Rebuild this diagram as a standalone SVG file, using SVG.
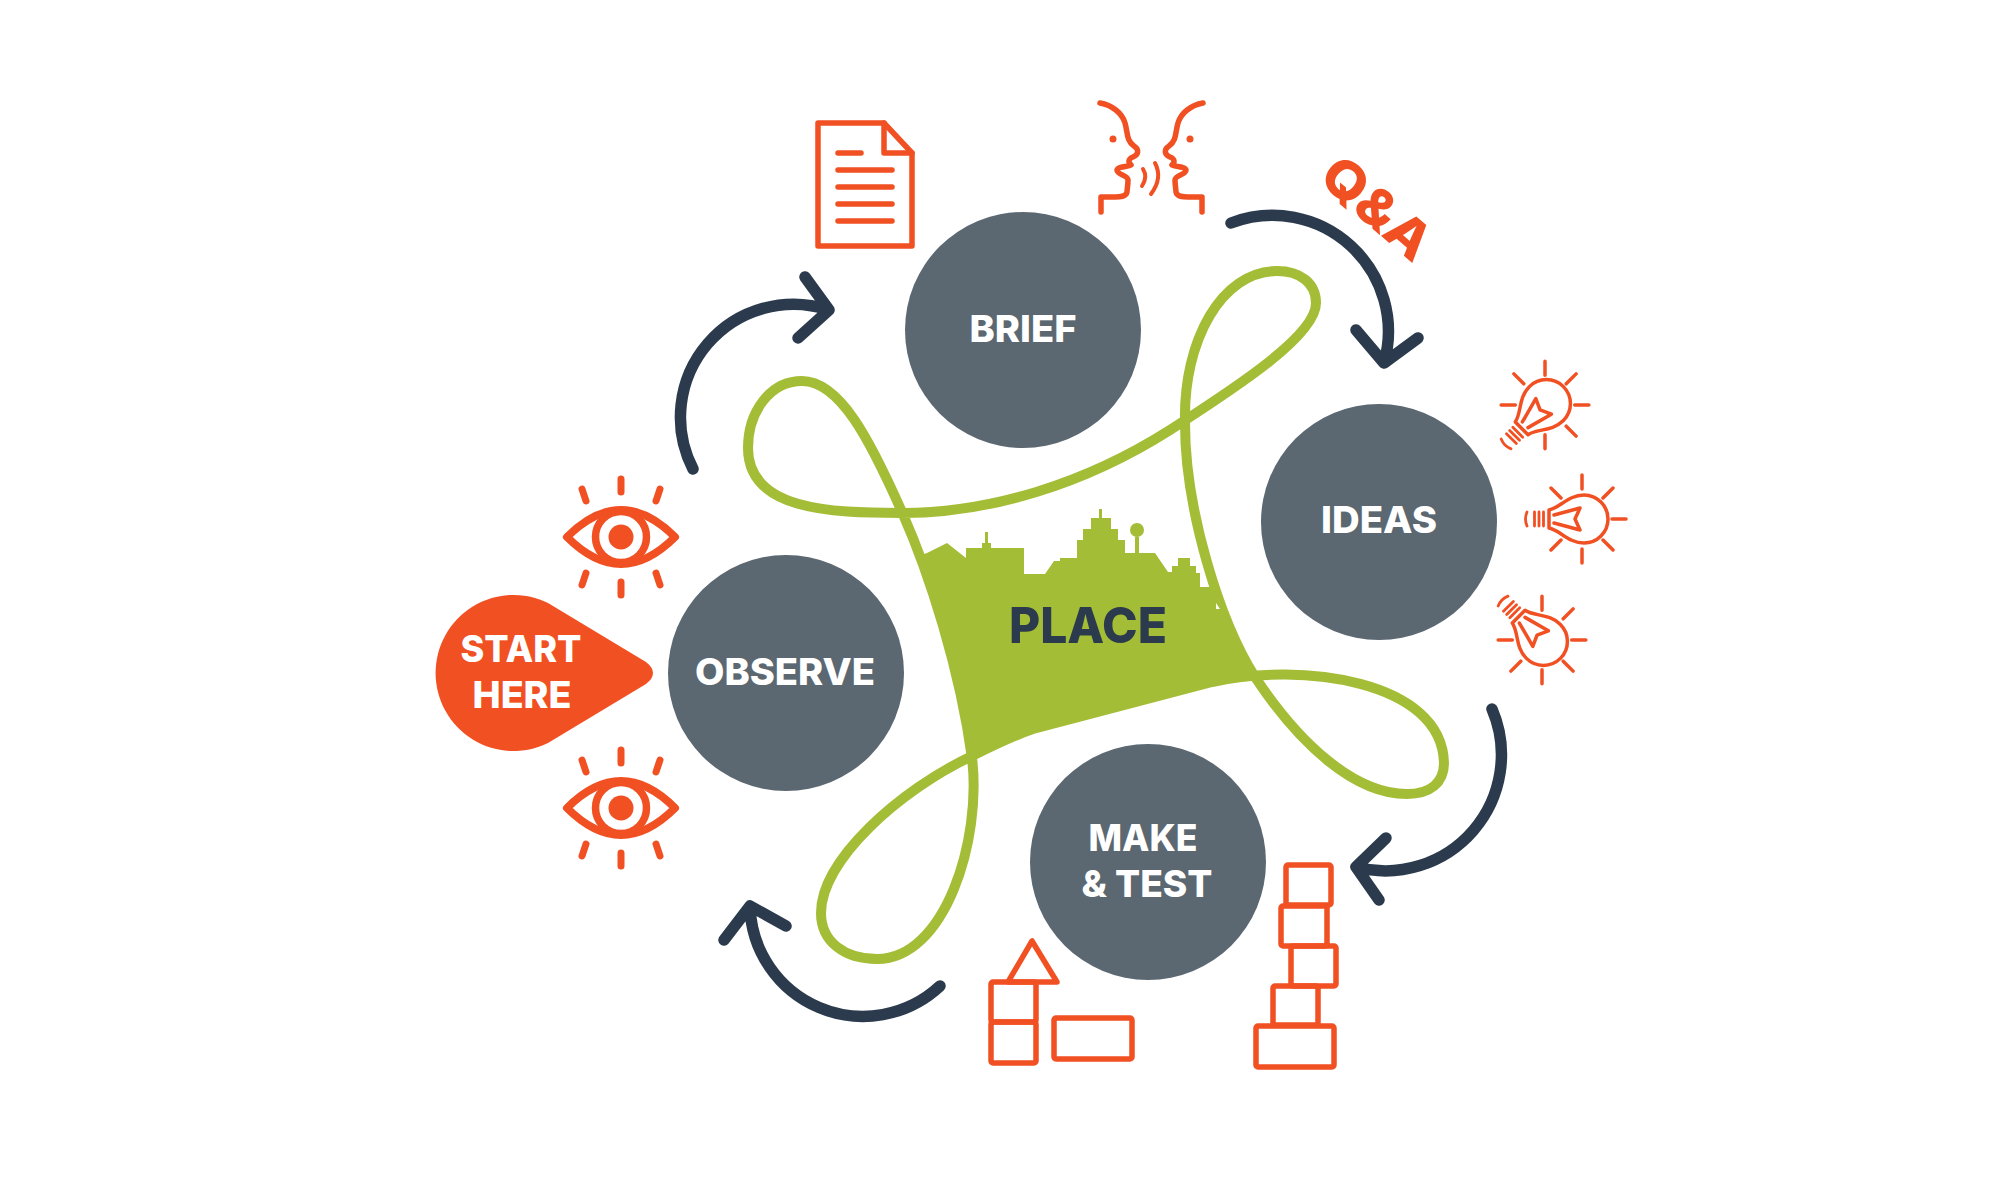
<svg xmlns="http://www.w3.org/2000/svg" xmlns:xlink="http://www.w3.org/1999/xlink" width="2000" height="1200" viewBox="0 0 2000 1200">
<style>
.o{fill:none;stroke:#f15023;stroke-width:5.500;stroke-linecap:round;stroke-linejoin:round}
.a{fill:none;stroke:#2b3b4d;stroke-width:11.500;stroke-linecap:round;stroke-linejoin:round}
.c{fill:#5b6771}
.t{font-family:"Inter","Liberation Sans",sans-serif;font-weight:800;font-size:37px;fill:#fff;text-anchor:middle}
.b{fill:none;stroke:#f15023;stroke-width:3.500;stroke-linecap:round;stroke-linejoin:round}
</style>
<defs>
<g id="eye">
<path d="M-54,0Q0,-54 54,0Q0,54 -54,0Z" fill="none" stroke="#f15023" stroke-width="8" stroke-linejoin="round"/>
<circle r="25.500" fill="#fff" stroke="#f15023" stroke-width="7.500"/>
<circle r="12.500" fill="#f15023"/>
<path d="M0,-58V-45M0,45V58M-39,-48L-35,-36M39,-48L35,-36M-39,48L-35,36M39,48L35,36" fill="none" stroke="#f15023" stroke-width="7" stroke-linecap="round"/>
</g>
<g id="bulb" class="b">
<path d="M-33,-9V9C-22,11 -14,24 2,24A24,24 0 0 0 2,-24C-14,-24 -22,-11 -33,-9Z"/>
<path d="M-28,-4L-2,-11L-7,0L-2,11L-28,4"/>
<path stroke-width="2.800" d="M-38.500,-7V7M-43,-7V7M-47.500,-7V7M-55,-7Q-58,0 -55,7"/>
<path d="M0,-44V-30M0,30V44M30,0H44M21,-21L31,-31M21,21L31,31M-21,-21L-31,-31M-21,21L-31,31"/>
</g>
<path id="face" d="M1100,103C1112,105 1122,113 1125,123C1128,133 1126,140 1134,146C1140,150 1138,155 1133,157C1128,159 1128,162 1131,165C1128,167 1118,166 1117,170C1117,175 1128,175 1128,180C1128,185 1127,190 1127,192C1126,197 1120,197 1115,197H1101V212"/>
</defs>
<rect width="2000" height="1200" fill="#fff"/>
<g id="place">
<path fill="#a4bd36" d="M918,556L927,553L947,543L966,558V548H982V543H985V532H988V543H991V548H1024V574H1045L1054,561H1060V558H1077V540H1083V529H1091V518H1099V509H1102V518H1111V529H1118V540H1125V553H1135V537H1139V553H1155L1168,572H1172V566H1178V558H1190V566H1196V573H1200V587H1212L1220,596L1241,645L1258,680L1212,684L1033,730L972,756L960,697L938,612Z"/>
<circle cx="1137" cy="530" r="7" fill="#a4bd36"/>
<text x="1088" y="643" font-family="Inter,Liberation Sans,sans-serif" font-weight="800" font-size="50" fill="#2b3b4d" text-anchor="middle" textLength="158" lengthAdjust="spacingAndGlyphs">PLACE</text>
</g>
<g id="loop">
<path fill="none" stroke="#a4bd36" stroke-width="10" d="M1185,423C1183,340 1222,271 1277,271C1300,271 1316,283 1316,303C1316,335 1240,385 1170,430C1085,484 990,513 902,513C830,513 748,510 748,448C748,412 770,381 802,381C840,381 870,440 902,512C930,575 960,670 972,758C982,840 945,959 877,959C845,959 821,942 821,913C821,860 900,790 972,756C992,746 1012,736 1033,729L1212,682C1300,662 1442,680 1444,763C1444,783 1430,794 1407,794C1355,794 1300,745 1255,677C1220,622 1185,510 1185,423Z"/>
<path d="M1216,603L1220,609L1216,609Z" fill="#fff"/>
</g>
<g id="node-brief"><circle class="c" cx="1023" cy="330" r="118"/><text class="t" x="1023" y="342" textLength="107" lengthAdjust="spacingAndGlyphs">BRIEF</text></g>
<g id="node-ideas"><circle class="c" cx="1379" cy="522" r="118"/><text class="t" x="1379" y="533" textLength="116" lengthAdjust="spacingAndGlyphs">IDEAS</text></g>
<g id="node-observe"><circle class="c" cx="786" cy="673" r="118"/><text class="t" x="785" y="685" textLength="180" lengthAdjust="spacingAndGlyphs">OBSERVE</text></g>
<g id="node-make"><circle class="c" cx="1148" cy="862" r="118"/><text class="t" x="1143" y="851" textLength="109" lengthAdjust="spacingAndGlyphs">MAKE</text><text class="t" x="1147" y="897" textLength="131" lengthAdjust="spacingAndGlyphs">&amp; TEST</text></g>
<g id="node-start">
<path fill="#f15023" d="M548,603A78,78 0 1 0 548,743L646,684Q660,673 646,662Z"/>
<text class="t" x="521" y="662" textLength="121" lengthAdjust="spacingAndGlyphs">START</text>
<text class="t" x="522" y="708" textLength="99" lengthAdjust="spacingAndGlyphs">HERE</text>
</g>
<g id="connectors">
<path class="a" d="M693,469A113,113 0 0 1 829,310M805,277L829,310L798,338"/>
<path class="a" d="M1231,223A116,116 0 0 1 1384,363M1356,330L1384,363L1418,338"/>
<path class="a" d="M1492,709A116,116 0 0 1 1356,867M1386,838L1356,867L1379,900"/>
<path class="a" d="M940,986A113,113 0 0 1 750,906M724,940L750,906L786,926"/>
</g>
<g id="icon-doc" class="o">
<path d="M818,123H884L912,153V246H818Z"/>
<path d="M884,123V153H912"/>
<path d="M838,153H861M838,170H892M838,187H892M838,204H892M838,221H892"/>
</g>
<g id="icon-talk" class="o">
<use href="#face"/>
<use href="#face" transform="matrix(-1 0 0 1 2303 0)"/>
<path stroke-width="4" d="M1143,169Q1148,177 1142,186M1155,163Q1163,178 1151,194"/>
<circle cx="1113" cy="139" r="1.500" fill="#f15023" stroke-width="4"/><circle cx="1190" cy="139" r="1.500" fill="#f15023" stroke-width="4"/>
</g>
<g id="icon-qa"><text transform="translate(1365,222) rotate(41)" font-family="Inter,Liberation Sans,sans-serif" font-weight="800" font-size="52" fill="#f15023" text-anchor="middle" textLength="128" lengthAdjust="spacingAndGlyphs">Q&amp;A</text></g>
<g id="icon-eyes"><use xlink:href="#eye" href="#eye" x="621" y="537"/><use xlink:href="#eye" href="#eye" x="621" y="808"/></g>
<g id="icon-bulbs">
<use href="#bulb" transform="translate(1545,405) rotate(-45)"/>
<use href="#bulb" transform="translate(1582,519)"/>
<use href="#bulb" transform="translate(1542,640) rotate(45)"/>
</g>
<g id="icon-blocks" class="o">
<rect x="1286" y="865" width="45" height="40" rx="2"/><rect x="1281" y="906" width="46" height="40" rx="2"/><rect x="1291" y="946" width="45" height="40" rx="2"/><rect x="1273" y="986" width="45" height="39" rx="2"/><rect x="1256" y="1026" width="78" height="41" rx="2"/>
<rect x="991" y="982" width="45" height="40" rx="2"/><rect x="991" y="1022" width="45" height="41" rx="2"/><rect x="1054" y="1018" width="78" height="41" rx="2"/>
<path d="M1032,941L1008,982H1057Z"/>
</g>
</svg>
